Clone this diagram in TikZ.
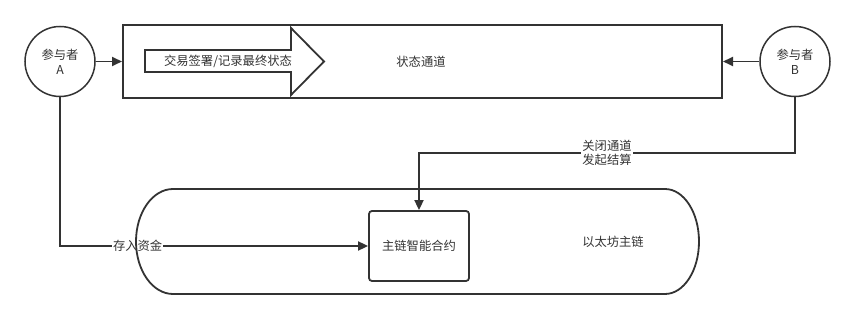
\documentclass[tikz,border=0pt]{standalone}
\usepackage{fontspec}
\setmainfont{Noto Sans CJK SC}
\usetikzlibrary{arrows.meta}
\definecolor{ln}{HTML}{333333}
\definecolor{tx}{HTML}{333333}
\begin{document}
\begin{tikzpicture}[x=1pt,y=-1pt,
  font=\fontsize{12.3}{15}\selectfont, text=tx,
  conn/.style={draw=ln,line width=1.8pt,-{Triangle[length=10pt,width=9pt]}},
  party/.style={circle,draw=ln,line width=1.5pt,minimum size=70pt,inner sep=0pt,align=center},
  lbl/.style={fill=white,inner sep=1pt,align=center,font=\fontsize{12.3}{14}\selectfont}]
\useasboundingbox (0,0) rectangle (855,320);

% parties
\node[party] (A) at (60,61.5) {参与者\\A};
\node[party] (B) at (795,61.5) {参与者\\B};

% state channel
\node[draw=ln,line width=2pt,minimum width=599pt,minimum height=73pt,inner sep=0pt] (chan) at (422.5,61.5) {};
\node (chanlbl) at (421,61.5) {状态通道};

% big arrow
\draw[draw=ln,line width=1.8pt,fill=white] (145,50) -- (291,50) -- (291,28) -- (324,61.5) -- (291,95) -- (291,72) -- (145,72) -- cycle;
\node (sign) at (228,61.5) {交易签署/记录最终状态};

% contract
\node[draw=ln,line width=1.8pt,rounded corners=3pt,minimum width=100pt,minimum height=70pt,inner sep=0pt] (contract) at (419,246) {主链智能合约};

% connectors
\draw[conn] (A.east) -- (chan.west);
\draw[conn] (B.west) -- (chan.east);
\draw[conn] (A.south) |- node[lbl,pos=0.626] (deposit) {存入资金} (contract.west);
\coordinate (bend) at (795,153);
\draw[conn] (B.south) -- (bend) -| node[lbl,pos=0.25] (close) {关闭通道\\发起结算} (contract.north);

% ethereum main chain (terminator)
\draw[draw=ln,line width=1.8pt] (173,189) -- (665,189)
  .. controls (683.8,189) and (699,212.5) .. (699,241.5)
  .. controls (699,270.5) and (683.8,294) .. (665,294)
  -- (173,294)
  .. controls (152.6,294) and (136,270.5) .. (136,241.5)
  .. controls (136,212.5) and (152.6,189) .. (173,189) -- cycle;
\node (eth) at (613,242) {以太坊主链};
\end{tikzpicture}
\end{document}
